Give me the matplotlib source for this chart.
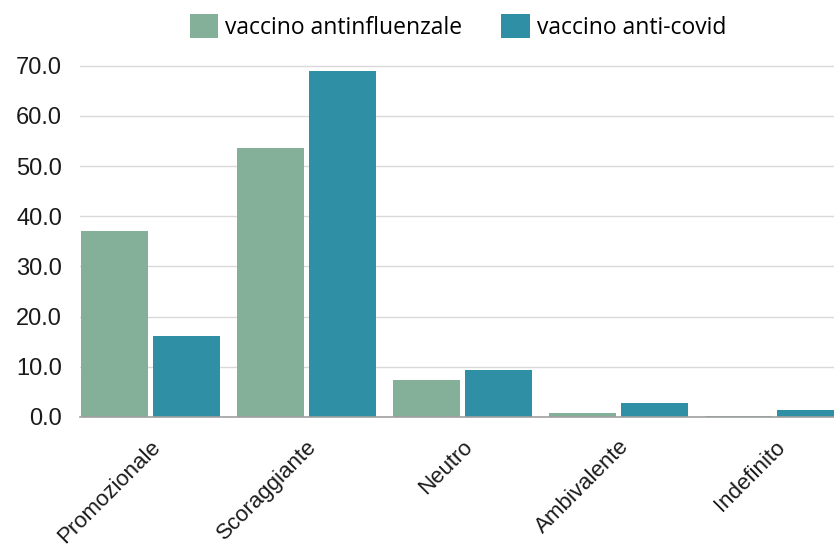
"""Bar chart: tono dei contenuti per tipo di vaccino."""

import numpy as np
import matplotlib.pyplot as plt
from matplotlib.patches import Patch

# ---- Data ----
categories = ['Promozionale', 'Scoraggiante', 'Neutro', 'Ambivalente', 'Indefinito']
antinfluenzale = [37.0, 53.6, 7.3, 0.8, 0.2]
anticovid = [16.2, 69.0, 9.3, 2.8, 1.4]
series_names = ['vaccino antinfluenzale', 'vaccino anti-covid']
y_ticks = [0, 10, 20, 30, 40, 50, 60, 70]

# ---- Colors ----
C_GREEN = '#84B09A'
C_BLUE = '#2E8FA5'
C_GRID = '#D9D9D9'
C_TEXT = '#1A1A1A'

plt.rcParams['font.family'] = ['Liberation Sans', 'DejaVu Sans']

fig = plt.figure(figsize=(8.34, 5.5), dpi=100)
ax = fig.add_axes([0.096, 0.242, 0.904, 0.652])

x = np.arange(len(categories))
w = 0.43
ax.bar(x - 0.232, antinfluenzale, width=w, color=C_GREEN, zorder=3)
ax.bar(x + 0.232, anticovid, width=w, color=C_BLUE, zorder=3)

ax.set_xlim(-0.45, 4.38)
ax.set_ylim(0, 71.5)
ax.set_yticks(y_ticks)
ax.set_yticklabels([f'{v:.1f}' for v in y_ticks], fontsize=17, color=C_TEXT)
ax.set_xticks(x)
ax.set_xticklabels(categories, rotation=45, ha='right', rotation_mode='anchor',
                   fontsize=16, color=C_TEXT)
ax.tick_params(axis='both', length=0)
ax.tick_params(axis='y', pad=13)
ax.tick_params(axis='x', pad=14)

ax.grid(axis='y', color=C_GRID, linewidth=1, zorder=0)
for side in ['top', 'right', 'left']:
    ax.spines[side].set_visible(False)
ax.spines['bottom'].set_color('#A0A0A0')
ax.spines['bottom'].set_linewidth(1.2)
ax.spines['bottom'].set_zorder(4)

handles = [Patch(facecolor=C_GREEN), Patch(facecolor=C_BLUE)]
fig.legend(handles, series_names, loc='center', bbox_to_anchor=(0.549, 0.951),
           ncol=2, frameon=False, prop={'family': 'Open Sans', 'size': 16.5},
           handlelength=1.25, handleheight=1.25,
           handletextpad=0.3, columnspacing=1.7)

fig.savefig('out.png', dpi=100, facecolor='white')
